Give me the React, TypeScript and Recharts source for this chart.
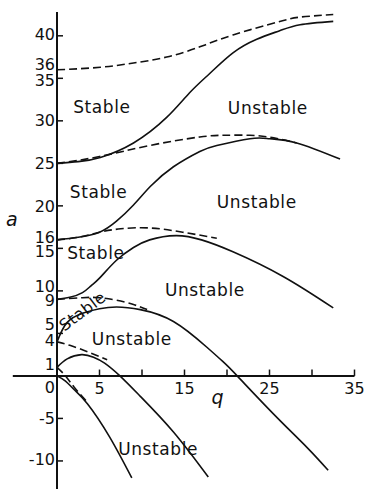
import React from 'react';
import { LineChart, Line, XAxis, YAxis, ReferenceLine, ReferenceDot } from 'recharts';

// Mathieu stability chart: characteristic curves, as [q, a]
const curveA0 = [[0, 0], [1, -0.6], [2, -1.6], [3.6, -3.3], [6.2, -7.2], [8.8, -12]];
const curveB1 = [[0, 1], [1, 0], [2, -1.3], [3.4, -2.9]];
const curveA1 = [[0, 1], [1.2, 2.0], [2.9, 2.5], [4.3, 2.2], [5.6, 1.5], [7.4, 0], [9.8, -2.4], [13.7, -6.6], [17.8, -11.9]];
const curveB2 = [[0, 4], [1.5, 3.6], [3.7, 2.8], [5.9, 1.9]];
const curveA2 = [[0, 4], [1.2, 6.3], [3.1, 7.4], [5, 7.9], [7, 8.1], [9.8, 7.8], [13.7, 6.4], [17.6, 3.4], [19.5, 1.7], [21.2, 0], [25.4, -4.4], [29.4, -8.4], [31.9, -11.1]];
const curveB3 = [[0, 9], [3, 9.2], [5, 9.2], [7, 8.9], [9, 8.4], [10.6, 7.8]];
const curveA3 = [[0, 9], [1.5, 9.25], [3, 9.8], [4, 10.6], [5, 11.5], [7, 13.6], [9, 15.1], [10.9, 16.0], [14, 16.5], [17, 16.0], [20.7, 14.6], [26.6, 11.7], [32.5, 8.0]];
const curveB4 = [[0, 16], [2.5, 16.3], [5, 16.9], [7.5, 17.3], [10.9, 17.4], [14.8, 16.9], [18.8, 16.2]];
const curveA4 = [[0, 16], [2.5, 16.3], [5, 16.9], [7, 18.2], [9, 20.1], [11, 22.3], [13.7, 24.6], [16.8, 26.4], [18.8, 27.1], [22.7, 27.9], [25, 27.9], [28.2, 27.4], [33.3, 25.5]];
const curveB5 = [[0, 25], [5, 25.8], [10.9, 27.1], [16.8, 28.1], [19.7, 28.3], [22.7, 28.3], [25.5, 28.0], [28.2, 27.4]];
const curveA5 = [[0, 25], [2.5, 25.2], [5.1, 25.7], [9, 27.4], [12.9, 30.4], [15.6, 33.3], [18, 35.6], [20.7, 38], [23.5, 39.6], [26.2, 40.6], [28.6, 41.3], [32.5, 41.7]];
const curveB6 = [[0, 36], [5.1, 36.3], [9, 36.8], [12.9, 37.5], [16.8, 38.7], [20.7, 40.1], [25.9, 41.6], [28.6, 42.2], [32.5, 42.5]];

const solidCurves = [curveA0, curveA1, curveA2, curveA3, curveA4, curveA5];
const dashedCurves = [curveB1, curveB2, curveB3, curveB4, curveB5, curveB6];

const yTicks = [40, 36, 35, 30, 25, 20, 16, 15, 10, 9, 5, 4, 1, 0, -5, -10];
const xTickMarks = [5, 10, 15, 20, 25, 30, 35];
const xTickLabels = [5, 15, 25, 35];

// region labels: text, q, a
const regionLabels: [string, number, number][] = [
  ['Stable', 1.9, 31.6],
  ['Unstable', 20.1, 31.5],
  ['Stable', 1.5, 21.6],
  ['Unstable', 18.8, 20.4],
  ['Stable', 1.2, 14.5],
  ['Unstable', 12.7, 10.1],
  ['Unstable', 4.1, 4.4],
  ['Unstable', 7.2, -8.6],
];
const rotatedLabel: [string, number, number, number] = ['Stable', 3.0, 7.6, -37];
const axisNames: [string, number, number][] = [
  ['q', 18.9, -2.5],
  ['a', -5.3, 18.5],
];

const FONT = "'DejaVu Sans', sans-serif";
const INK = '#111';

// small vertical nudges of tick labels, as in the original print
const yLabelShift: Record<number, number> = {
  40: -1, 36: -5, 35: 2, 20: 1, 16: -2, 15: 3, 10: -4, 9: 1, 5: -9, 4: -1, 1: -3, 0: 12, '-10': -1,
};

const toPts = (arr: number[][]) => arr.map(([q, a]) => ({ q, a }));

const renderYTick = (props: any) => {
  const { x, y, payload } = props;
  const v = payload.value as number;
  const dy = yLabelShift[v] ?? 0;
  return (
    <g>
      {v % 5 === 0 && v !== 0 ? (
        <line x1={x} x2={x + 6} y1={y} y2={y} stroke={INK} strokeWidth={1.5} />
      ) : null}
      <text
        x={x - 2}
        y={y + dy}
        textAnchor="end"
        dominantBaseline="central"
        fontFamily={FONT}
        fontSize={16}
        fill={INK}
      >
        {String(v)}
      </text>
    </g>
  );
};

export default function App() {
  return (
    <div style={{ position: 'absolute', left: 0, top: 0, background: '#fff' }}>
      <LineChart width={371} height={489} margin={{ top: 12, right: 16.5, bottom: 0, left: 12 }}>
        <XAxis type="number" dataKey="q" domain={[0, 35]} hide allowDataOverflow />
        <YAxis
          type="number"
          domain={[-13.3, 42.8]}
          ticks={yTicks}
          interval={0}
          width={45}
          tickSize={0}
          tickMargin={0}
          tickLine={false}
          axisLine={{ stroke: INK, strokeWidth: 2 }}
          tick={renderYTick}
          allowDataOverflow
        />
        <ReferenceLine
          segment={[{ x: -5.2, y: 0 }, { x: 35, y: 0 }]}
          stroke={INK}
          strokeWidth={2}
          ifOverflow="visible"
        />
        {xTickMarks.map((t) => (
          <ReferenceLine
            key={'xt' + t}
            segment={[{ x: t, y: 0 }, { x: t, y: 0.75 }]}
            stroke={INK}
            strokeWidth={1.5}
            ifOverflow="visible"
          />
        ))}
        {xTickLabels.map((t) => (
          <ReferenceDot
            key={'xl' + t}
            x={t}
            y={0}
            r={1}
            ifOverflow="visible"
            shape={(p: any) => (
              <text
                x={p.cx}
                y={p.cy + 13}
                textAnchor="middle"
                dominantBaseline="central"
                fontFamily={FONT}
                fontSize={16}
                fill={INK}
              >
                {String(t)}
              </text>
            )}
          />
        ))}
        {solidCurves.map((c, i) => (
          <Line
            key={'s' + i}
            data={toPts(c)}
            dataKey="a"
            type="natural"
            stroke={INK}
            strokeWidth={1.6}
            dot={false}
            isAnimationActive={false}
          />
        ))}
        {dashedCurves.map((c, i) => (
          <Line
            key={'d' + i}
            data={toPts(c)}
            dataKey="a"
            type="natural"
            stroke={INK}
            strokeWidth={1.6}
            strokeDasharray="8 4"
            dot={false}
            isAnimationActive={false}
          />
        ))}
        {regionLabels.map(([txt, q, a], i) => (
          <ReferenceDot
            key={'rl' + i}
            x={q}
            y={a}
            r={1}
            ifOverflow="visible"
            shape={(p: any) => (
              <text
                x={p.cx}
                y={p.cy}
                textAnchor="start"
                dominantBaseline="central"
                fontFamily={FONT}
                fontSize={17}
                letterSpacing={0.6}
                fill={INK}
              >
                {txt}
              </text>
            )}
          />
        ))}
        <ReferenceDot
          x={rotatedLabel[1]}
          y={rotatedLabel[2]}
          r={1}
          ifOverflow="visible"
          shape={(p: any) => (
            <text
              x={p.cx}
              y={p.cy}
              textAnchor="middle"
              dominantBaseline="central"
              fontFamily={FONT}
              fontSize={16}
              letterSpacing={0.4}
              fill={INK}
              transform={`rotate(${rotatedLabel[3]} ${p.cx} ${p.cy})`}
            >
              {rotatedLabel[0]}
            </text>
          )}
        />
        {axisNames.map(([txt, q, a]) => (
          <ReferenceDot
            key={'an' + txt}
            x={q}
            y={a}
            r={1}
            ifOverflow="visible"
            shape={(p: any) => (
              <text
                x={p.cx}
                y={p.cy}
                textAnchor="middle"
                dominantBaseline="central"
                fontFamily={FONT}
                fontSize={19}
                fontStyle="italic"
                fill={INK}
              >
                {txt}
              </text>
            )}
          />
        ))}
      </LineChart>
    </div>
  );
}
